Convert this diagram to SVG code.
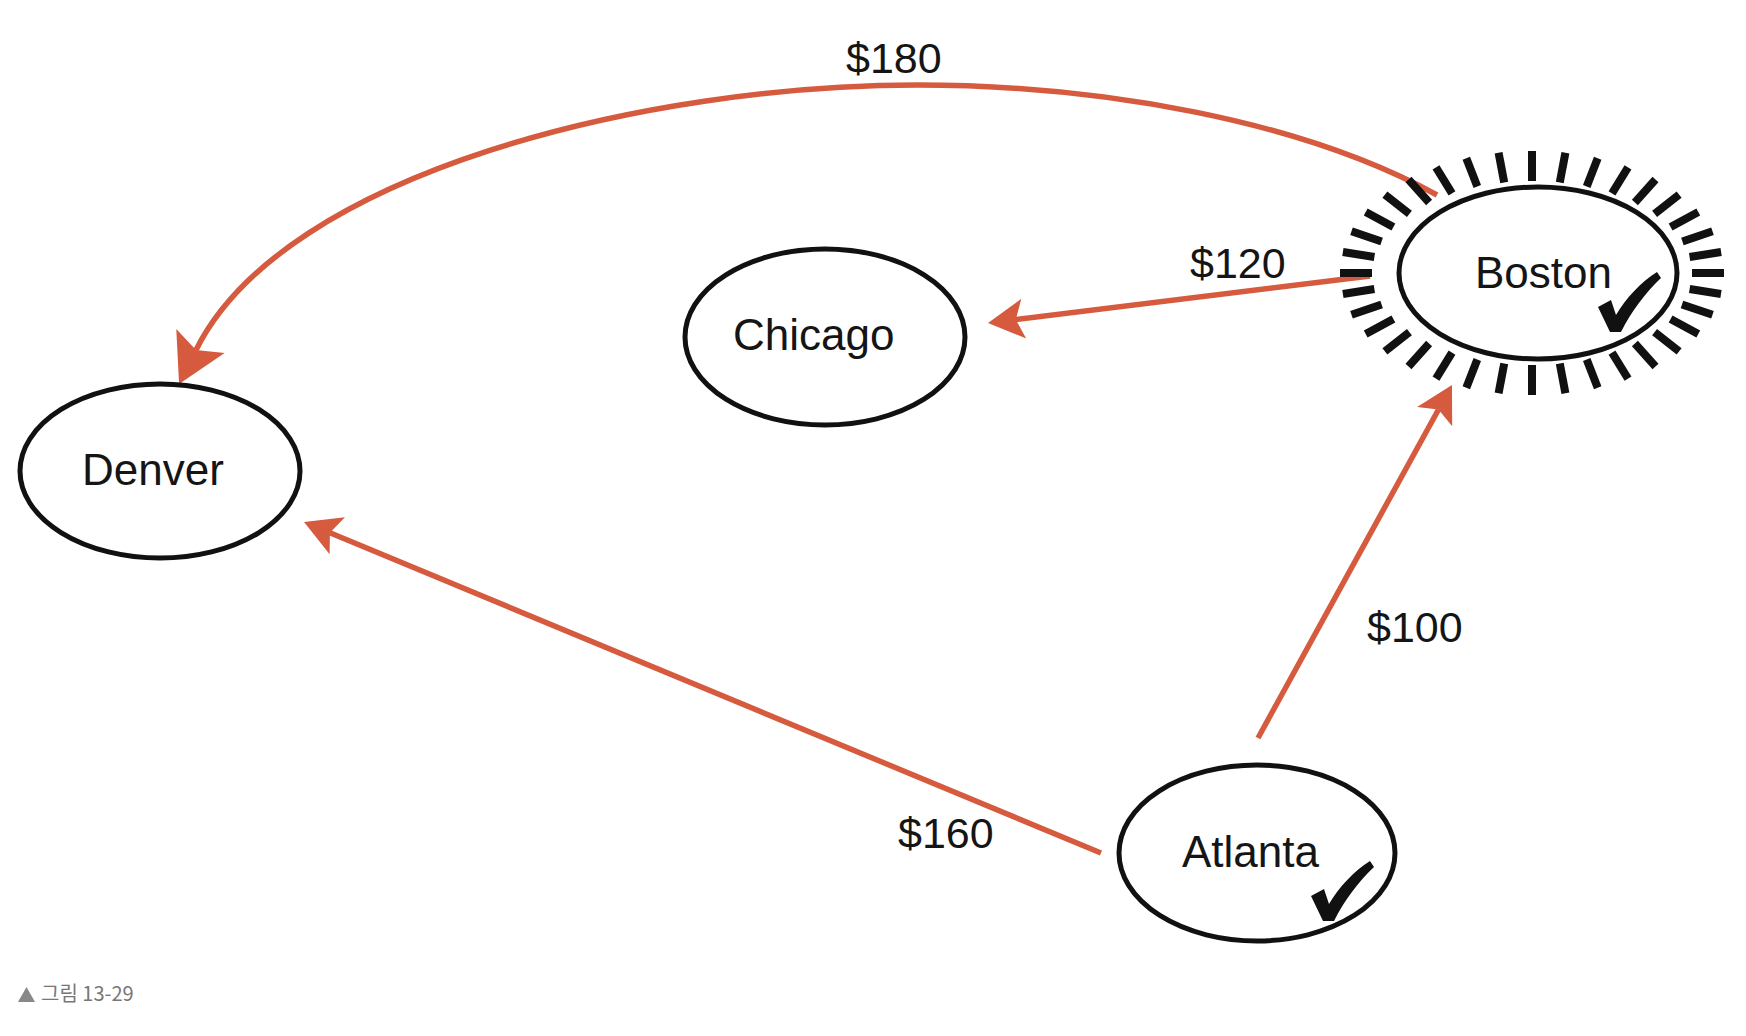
<svg xmlns="http://www.w3.org/2000/svg" width="1746" height="1036" viewBox="0 0 1746 1036">
<style>
.node{fill:#fff;stroke:#111;stroke-width:5}
.lbl{font-family:"Liberation Sans",Arial,Helvetica,sans-serif;font-size:44px;fill:#151515}
.cost{font-family:"Liberation Sans",Arial,Helvetica,sans-serif;font-size:43px;fill:#151515}
.edge{fill:none;stroke:#D65A3D;stroke-width:5.5}
.ray{stroke:#111;stroke-width:8}
.check{fill:#111}
.cap{font-family:"Noto Sans CJK KR","Noto Sans",sans-serif;font-size:20px;fill:#777}
</style>
<defs>
<marker id="arr" markerUnits="userSpaceOnUse" orient="auto" refX="0" refY="0" markerWidth="80" markerHeight="80" viewBox="-40 -40 80 80" overflow="visible">
<path d="M28,0 L-8,-20 L0,0 L-8,20 Z" fill="#D65A3D"/>
</marker>
<marker id="arrBig" markerUnits="userSpaceOnUse" orient="auto" refX="0" refY="0" markerWidth="100" markerHeight="100" viewBox="-50 -50 100 100" overflow="visible">
<path d="M38,0 L-10,-27 L0,0 L-10,27 Z" fill="#D65A3D"/>
</marker>
<path id="chk" d="M-16,-25 L-3,-32 L2,-17 C12,-34 27,-50 43,-60 L47,-54 C32,-40 17,-20 7,0 L-4,0 Z"/>
</defs>

<g id="connectors">
<path class="edge" d="M1437,195 C1300,120 1100,85 917,85 C650,85 285,171 196,350" marker-end="url(#arrBig)"/>
<line class="edge" x1="1370" y1="276" x2="1015.8" y2="319.6" marker-end="url(#arr)"/>
<line class="edge" x1="1258" y1="738" x2="1438.5" y2="409.5" marker-end="url(#arr)"/>
<line class="edge" x1="1101" y1="853" x2="329.9" y2="532.7" marker-end="url(#arr)"/>
<text class="cost" x="846" y="73">$180</text>
<text class="cost" x="1190" y="278">$120</text>
<text class="cost" x="1367" y="642">$100</text>
<text class="cost" x="898" y="848">$160</text>
</g>

<g id="node-denver">
<ellipse class="node" cx="160" cy="471" rx="140" ry="87"/>
<text class="lbl" x="82" y="485">Denver</text>
</g>

<g id="node-chicago">
<ellipse class="node" cx="825" cy="337" rx="140" ry="88"/>
<text class="lbl" x="733" y="350">Chicago</text>
</g>

<g id="node-boston">
<g id="boston-rays">
<line class="ray" x1="1692" y1="273" x2="1724" y2="273"/>
<line class="ray" x1="1689.6" y1="289" x2="1721" y2="294"/>
<line class="ray" x1="1682" y1="304.5" x2="1712.5" y2="314.7"/>
<line class="ray" x1="1670.6" y1="319" x2="1698.3" y2="334"/>
<line class="ray" x1="1654.6" y1="332.2" x2="1679.1" y2="351.4"/>
<line class="ray" x1="1634.9" y1="343.5" x2="1655.5" y2="366.5"/>
<line class="ray" x1="1612" y1="352.7" x2="1628" y2="378.7"/>
<line class="ray" x1="1586.7" y1="359.5" x2="1597.7" y2="387.7"/>
<line class="ray" x1="1559.8" y1="363.6" x2="1565.4" y2="393.2"/>
<line class="ray" x1="1532" y1="365" x2="1532" y2="395"/>
<line class="ray" x1="1504.2" y1="363.6" x2="1498.6" y2="393.2"/>
<line class="ray" x1="1477.3" y1="359.5" x2="1466.3" y2="387.7"/>
<line class="ray" x1="1452" y1="352.7" x2="1436" y2="378.7"/>
<line class="ray" x1="1429.1" y1="343.5" x2="1408.5" y2="366.5"/>
<line class="ray" x1="1409.4" y1="332.2" x2="1384.9" y2="351.4"/>
<line class="ray" x1="1393.4" y1="319" x2="1365.7" y2="334"/>
<line class="ray" x1="1381.6" y1="304.5" x2="1351.5" y2="314.7"/>
<line class="ray" x1="1374.4" y1="289" x2="1342.9" y2="294"/>
<line class="ray" x1="1372" y1="273" x2="1340" y2="273"/>
<line class="ray" x1="1374.4" y1="257" x2="1342.9" y2="252"/>
<line class="ray" x1="1381.6" y1="241.5" x2="1351.5" y2="231.3"/>
<line class="ray" x1="1393.4" y1="227" x2="1365.7" y2="212"/>
<line class="ray" x1="1409.4" y1="213.8" x2="1384.9" y2="194.6"/>
<line class="ray" x1="1429.1" y1="202.5" x2="1408.5" y2="179.5"/>
<line class="ray" x1="1452" y1="193.3" x2="1436" y2="167.3"/>
<line class="ray" x1="1477.3" y1="186.5" x2="1466.3" y2="158.3"/>
<line class="ray" x1="1504.2" y1="182.4" x2="1498.6" y2="152.8"/>
<line class="ray" x1="1532" y1="181" x2="1532" y2="151"/>
<line class="ray" x1="1559.8" y1="182.4" x2="1565.4" y2="152.8"/>
<line class="ray" x1="1586.7" y1="186.5" x2="1597.7" y2="158.3"/>
<line class="ray" x1="1612" y1="193.3" x2="1628" y2="167.3"/>
<line class="ray" x1="1634.9" y1="202.5" x2="1655.5" y2="179.5"/>
<line class="ray" x1="1654.6" y1="213.8" x2="1679.1" y2="194.6"/>
<line class="ray" x1="1670.6" y1="227" x2="1698.3" y2="212"/>
<line class="ray" x1="1682.4" y1="241.5" x2="1712.5" y2="231.3"/>
<line class="ray" x1="1689.6" y1="257" x2="1721.1" y2="252"/>
</g>
<ellipse class="node" cx="1538" cy="273" rx="139" ry="86"/>
<text class="lbl" x="1475" y="288">Boston</text>
<use href="#chk" class="check" x="1614" y="332"/>
</g>

<g id="node-atlanta">
<ellipse class="node" cx="1257" cy="853" rx="138" ry="88"/>
<text class="lbl" x="1182" y="867">Atlanta</text>
<use href="#chk" class="check" x="1327" y="921"/>
</g>

<g id="caption">
<polygon points="18,1002 26.5,987 35,1002" fill="#888"/>
<text class="cap" x="41" y="1001">그림 13-29</text>
</g>
</svg>
